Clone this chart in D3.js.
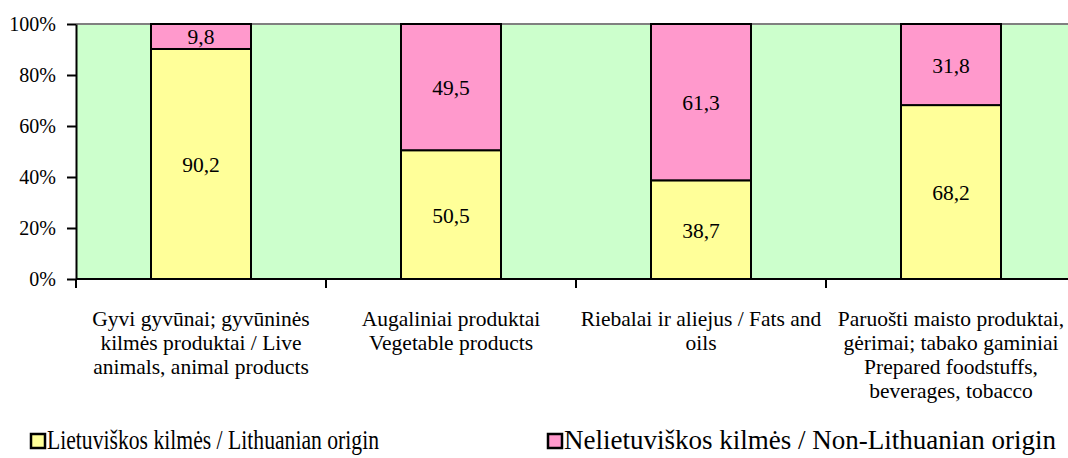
<!DOCTYPE html>
<html><head><meta charset="utf-8">
<script src="https://cdn.jsdelivr.net/npm/d3@7"></script>
<style>body{margin:0;background:#fff}</style>
</head><body><svg id="c" width="1068" height="458"></svg>
<script>
const categories = ["Gyvi gyvūnai; gyvūninės kilmės produktai / Live animals, animal products","Augaliniai produktai Vegetable products","Riebalai ir aliejus / Fats and oils","Paruošti maisto produktai, gėrimai; tabako gaminiai Prepared foodstuffs, beverages, tobacco"];
const categoryLines = [
  ["Gyvi gyvūnai; gyvūninės","kilmės produktai / Live","animals, animal products"],
  ["Augaliniai produktai","Vegetable products"],
  ["Riebalai ir aliejus / Fats and","oils"],
  ["Paruošti maisto produktai,","gėrimai; tabako gaminiai","Prepared foodstuffs,","beverages, tobacco"]
];
const lithuanian = [90.2, 50.5, 38.7, 68.2];
const nonLithuanian = [9.8, 49.5, 61.3, 31.8];
const yTicks = [0,20,40,60,80,100];
const seriesNames = ["Lietuviškos kilmės / Lithuanian origin","Nelietuviškos kilmės / Non-Lithuanian origin"];
const colors = ["#FFFF99","#FF99CC"];

const FONT = "'Liberation Serif'";
const svg = d3.select("#c");
const L=76, R=1076, T=24, B=279;
const x = d3.scaleBand().domain(d3.range(categories.length)).range([L,R]).paddingInner(0.6).paddingOuter(0.3);
const xTick = d3.scaleLinear().domain([0,categories.length]).range([L,R]);
const y = d3.scaleLinear().domain([0,100]).range([B,T]);

svg.append("rect").attr("x",L).attr("y",T).attr("width",R-L).attr("height",B-T).attr("fill","#CCFFCC");
svg.append("line").attr("x1",L).attr("x2",R).attr("y1",T).attr("y2",T).attr("stroke","#808080").attr("stroke-width",2);

const fmt = v => String(v).replace(".",",");
const stacks = d3.stack().keys([0,1]).value((d,k)=>d[k])(lithuanian.map((v,i)=>[v,nonLithuanian[i]]));
stacks.forEach((s,si)=>{
  const g = svg.append("g");
  g.selectAll("rect").data(s).join("rect")
    .attr("x",(d,i)=>x(i)).attr("width",x.bandwidth())
    .attr("y",d=>y(d[1])).attr("height",d=>y(d[0])-y(d[1]))
    .attr("fill",colors[si]).attr("stroke","#000").attr("stroke-width",2);
  g.selectAll("text").data(s).join("text")
    .attr("x",(d,i)=>x(i)+x.bandwidth()/2).attr("y",d=>(y(d[0])+y(d[1]))/2+8)
    .attr("text-anchor","middle").style("font-family",FONT).style("font-size","21.5px").attr("fill","#000")
    .text((d,i)=>fmt(si===0?lithuanian[i]:nonLithuanian[i]));
});

// y axis
const ya = svg.append("g").attr("transform",`translate(${L},0)`)
  .call(d3.axisLeft(y).tickValues(yTicks).tickFormat(d=>d+"%").tickSize(9).tickSizeOuter(0));
ya.select(".domain").attr("stroke","#000").attr("stroke-width",2);
ya.selectAll(".tick line").attr("stroke","#000").attr("stroke-width",2);
ya.selectAll(".tick text").style("font-family",FONT).style("font-size","20px").attr("fill","#000").attr("x",-20).attr("dy","0.33em");

// x axis
svg.append("line").attr("x1",L).attr("x2",R).attr("y1",B).attr("y2",B).attr("stroke","#000").attr("stroke-width",2);
svg.append("g").selectAll("line").data(d3.range(categories.length+1)).join("line")
  .attr("x1",d=>xTick(d)).attr("x2",d=>xTick(d)).attr("y1",B).attr("y2",B+9)
  .attr("stroke","#000").attr("stroke-width",2);
categoryLines.forEach((lines,i)=>{
  const t = svg.append("text").attr("text-anchor","middle").style("font-family",FONT).style("font-size","21.5px").attr("fill","#000");
  lines.forEach((ln,j)=>t.append("tspan").attr("x",x(i)+x.bandwidth()/2).attr("y",326+j*24).text(ln));
});

// legend
const legX=[31,548];
const legLen=[332,null];
seriesNames.forEach((n,i)=>{
  svg.append("rect").attr("x",legX[i]).attr("y",434).attr("width",14).attr("height",14)
    .attr("fill",colors[i]).attr("stroke","#000").attr("stroke-width",2.5);
  const t = svg.append("text").attr("x",legX[i]+16).attr("y",449).style("font-family",FONT).style("font-size","27px").attr("fill","#000").text(n);
  if (legLen[i]) t.attr("textLength",legLen[i]).attr("lengthAdjust","spacingAndGlyphs");
});
</script></body></html>
